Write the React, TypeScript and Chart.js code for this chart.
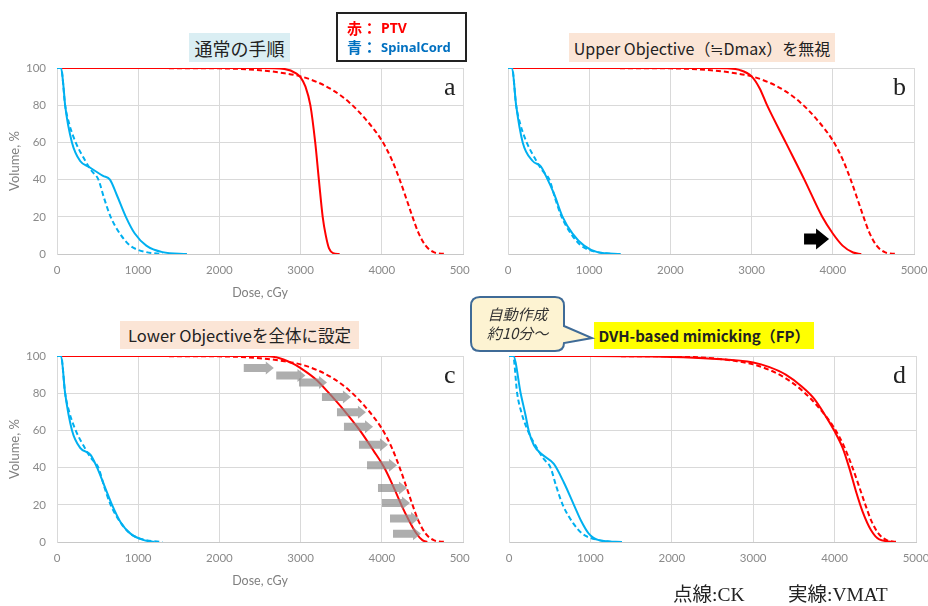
import React, { useEffect, useRef } from "react";
import { Chart, registerables } from "chart.js";
Chart.register(...registerables);

// ---------- DATA ----------
const xTicks = [0, 1000, 2000, 3000, 4000, 5000];
const yTicks = [0, 20, 40, 60, 80, 100];

// CK plan (dashed) – same reference plan in every panel
const cordCKDose = [0, 50, 100, 150, 230, 350, 420, 510, 580, 660, 790, 900, 1100, 1300];
const cordCKVol = [100, 100, 80, 70, 60, 50, 45, 40, 30, 20, 10, 4.5, 1, 0];
const ptvCKDose = [0, 2000, 2500, 2800, 3000, 3200, 3400, 3600, 3800, 4000, 4120, 4220, 4300, 4370, 4450, 4540, 4640, 4780];
const ptvCKVol = [100, 99.8, 98.8, 97.2, 95.5, 92.5, 88, 81.5, 72.5, 61, 51, 40, 30, 21, 11.5, 4.5, 1, 0];

// VMAT plans (solid)
const cordADose = [0, 50, 80, 100, 184, 285, 387, 567, 652, 734, 848, 958, 1100, 1300, 1600];
const cordAVol = [100, 100, 90, 80, 60, 50, 47, 42, 40, 32, 20, 11, 4.5, 1, 0];
const ptvADose = [0, 2500, 2800, 2950, 3000, 3060, 3120, 3180, 3225, 3272, 3310, 3350, 3400, 3480];
const ptvAVol = [100, 100, 99.5, 97, 95, 90, 80, 60, 40, 20, 10, 3, 0.5, 0];

const cordBDose = [0, 50, 100, 181, 304, 406, 467, 570, 672, 795, 937, 1102, 1388];
const cordBVol = [100, 100, 80, 60, 50, 47, 42, 32, 20, 11, 4.5, 1, 0];
const ptvBDose = [0, 2500, 2700, 2850, 3000, 3100, 3190, 3420, 3650, 3870, 4000, 4120, 4250, 4350];
const ptvBVol = [100, 100, 99.8, 99, 95.5, 89, 80, 60, 40, 20, 11, 4.5, 0.8, 0];

const cordCDose = [0, 50, 100, 185, 288, 411, 494, 596, 679, 781, 905, 1070, 1200];
const cordCVol = [100, 100, 80, 60, 50.5, 47, 40, 28.8, 19.8, 10.8, 4.5, 1, 0];
const ptvCDose = [0, 2500, 2700, 2900, 3000, 3200, 3350, 3550, 3730, 3900, 4030, 4140, 4240, 4330, 4420, 4500, 4560];
const ptvCVol = [100, 100, 99.3, 96, 93.5, 87, 80, 70, 60, 49, 40, 30, 20, 12, 5, 1, 0];

const cordDDose = [0, 53, 143, 204, 241, 306, 408, 551, 674, 797, 890, 980, 1103, 1388];
const cordDVol = [100, 100, 80, 68, 60, 52, 47, 42, 32, 20, 11, 4.5, 1, 0];
const ptvDDose = [0, 1000, 2000, 2500, 3000, 3200, 3400, 3600, 3750, 3900, 4000, 4100, 4182, 4264, 4345, 4448, 4549, 4753];
const ptvDVol = [100, 100, 99.5, 98.5, 96.5, 94, 90, 83.5, 77, 67, 59.5, 50.5, 39.6, 27, 16.2, 6.3, 1.4, 0];

// annotation arrows (dose from, dose to, volume)
const cArrowFrom = [2300, 2700, 2980, 3263, 3448, 3534, 3719, 3818, 3953, 4002, 4101, 4138];
const cArrowTo = [2670, 3060, 3325, 3620, 3805, 3892, 4076, 4187, 4310, 4347, 4458, 4483];
const cArrowVol = [93.5, 89.5, 85.8, 78, 69.8, 62, 52.3, 41.2, 29, 21, 12.7, 4.4];
const bArrowFrom = [3646];
const bArrowTo = [3954];
const bArrowVol = [8.1];

// ---------- helpers ----------
const pts = (d: number[], v: number[]) => d.map((x, i) => ({ x, y: v[i] }));
const BLUE = "#00b0f0";
const RED = "#ff0000";

const arrowPlugin = {
  id: "blockArrows",
  afterDatasetsDraw(chart: any, _a: any, opts: any) {
    if (!opts || !opts.from) return;
    const { ctx, scales } = chart;
    ctx.save();
    ctx.fillStyle = opts.color;
    for (let i = 0; i < opts.from.length; i++) {
      const x1 = scales.x.getPixelForValue(opts.from[i]);
      const x2 = scales.x.getPixelForValue(opts.to[i]);
      const y = scales.y.getPixelForValue(opts.vol[i]);
      const { sh, hh, hl } = opts;
      ctx.beginPath();
      ctx.moveTo(x1, y - sh);
      ctx.lineTo(x2 - hl, y - sh);
      ctx.lineTo(x2 - hl, y - hh);
      ctx.lineTo(x2, y);
      ctx.lineTo(x2 - hl, y + hh);
      ctx.lineTo(x2 - hl, y + sh);
      ctx.lineTo(x1, y + sh);
      ctx.closePath();
      ctx.fill();
    }
    ctx.restore();
  },
};

type PanelProps = {
  left: number; top: number; w: number; h: number;
  padL: number; padR: number; yW: number; showY: boolean; xTitle: boolean;
  cord: { x: number; y: number }[]; ptv: { x: number; y: number }[];
  arrows?: any;
};

const latin = "Lato, 'Noto Sans', sans-serif";
const tickFont = { family: latin, size: 11.5 };
const gridColor = "#d9d9d9";

function Panel(p: PanelProps) {
  const ref = useRef<HTMLCanvasElement>(null);
  useEffect(() => {
    const line = (data: any, color: string, dashed: boolean) => ({
      data,
      borderColor: color,
      borderWidth: 2,
      borderDash: dashed ? [5, 3] : [],
      pointRadius: 0,
      fill: false,
      cubicInterpolationMode: "monotone",
    });
    const chart = new Chart(ref.current!, {
      type: "line",
      data: {
        datasets: [
          line(p.cord, BLUE, false),
          line(pts(cordCKDose, cordCKVol), BLUE, true),
          line(p.ptv, RED, false),
          line(pts(ptvCKDose, ptvCKVol), RED, true),
        ] as any,
      },
      options: {
        responsive: false,
        animation: false,
        parsing: false,
        layout: { padding: { left: p.padL, right: p.padR, top: 8, bottom: 0 } },
        plugins: {
          legend: { display: false },
          tooltip: { enabled: false },
          blockArrows: p.arrows || {},
        } as any,
        scales: {
          x: {
            type: "linear",
            min: 0,
            max: 5000,
            afterBuildTicks: (s: any) => { s.ticks = xTicks.map((v) => ({ value: v })); },
            ticks: {
              color: "#8a8a8a",
              font: tickFont,
              padding: 9,
              maxRotation: 0,
              autoSkip: false,
              callback: (v: any) => String(v),
            },
            grid: { color: gridColor, lineWidth: 1, drawTicks: false, tickLength: 0 },
            border: { display: true, color: "#c8c8c8", width: 1 },
            title: {
              display: p.xTitle,
              text: "Dose, cGy",
              color: "#7f7f7f",
              font: { family: latin, size: 12.5 },
              padding: { top: 0, bottom: 0 },
            },
            afterFit: (s: any) => { s.height = 46; s.paddingLeft = 0; s.paddingRight = 0; },
          } as any,
          y: {
            type: "linear",
            min: 0,
            max: 100,
            afterBuildTicks: (s: any) => { s.ticks = yTicks.map((v) => ({ value: v })); },
            ticks: {
              display: p.showY,
              color: "#8a8a8a",
              font: tickFont,
              padding: 11,
              callback: (v: any) => String(v),
            },
            grid: { color: gridColor, lineWidth: 1, drawTicks: false, tickLength: 0 },
            border: { display: true, color: gridColor, width: 1 },
            title: {
              display: p.showY,
              text: "Volume, %",
              color: "#7f7f7f",
              font: { family: latin, size: 13 },
              padding: { top: 7, bottom: 0 },
            },
            afterFit: (s: any) => { s.width = p.yW; s.paddingTop = 0; s.paddingBottom = 0; },
          } as any,
        },
      },
      plugins: [arrowPlugin as any],
    });
    return () => chart.destroy();
  }, []);
  return (
    <canvas
      ref={ref}
      width={p.w}
      height={p.h}
      style={{ position: "absolute", left: p.left, top: p.top, width: p.w, height: p.h }}
    />
  );
}

const jp = "'Noto Sans CJK JP', 'Noto Sans', sans-serif";

function Title(props: { left: number; top: number; w: number; h: number; bg: string; text: string; bold?: boolean; size: number }) {
  return (
    <div
      style={{
        position: "absolute",
        left: props.left,
        top: props.top,
        width: props.w,
        height: props.h,
        background: props.bg,
        display: "flex",
        alignItems: "center",
        justifyContent: "center",
        fontFamily: jp,
        fontSize: props.size,
        fontWeight: props.bold ? 700 : 400,
        color: "#222",
        whiteSpace: "nowrap",
        lineHeight: 1,
      }}
    >
      {props.text}
    </div>
  );
}

function Letter(props: { left: number; top: number; t: string }) {
  return (
    <div
      style={{
        position: "absolute",
        left: props.left,
        top: props.top,
        fontFamily: "'Liberation Serif', serif",
        fontSize: 26,
        lineHeight: "26px",
        color: "#222",
      }}
    >
      {props.t}
    </div>
  );
}

export default function App() {
  return (
    <div style={{ position: "absolute", left: 0, top: 0, width: 928, height: 606, background: "#fff", overflow: "hidden" }}>
      <Panel left={0} top={60} w={470} h={240} padL={0} padR={7} yW={57} showY={true} xTitle={true}
        cord={pts(cordADose, cordAVol)} ptv={pts(ptvADose, ptvAVol)} />
      <Panel left={470} top={60} w={458} h={240} padL={38} padR={14} yW={0} showY={false} xTitle={false}
        cord={pts(cordBDose, cordBVol)} ptv={pts(ptvBDose, ptvBVol)}
        arrows={{ from: bArrowFrom, to: bArrowTo, vol: bArrowVol, color: "#000", sh: 5.5, hh: 10.5, hl: 13 }} />
      <Panel left={0} top={348} w={470} h={240} padL={0} padR={7} yW={57} showY={true} xTitle={true}
        cord={pts(cordCDose, cordCVol)} ptv={pts(ptvCDose, ptvCVol)}
        arrows={{ from: cArrowFrom, to: cArrowTo, vol: cArrowVol, color: "rgba(140,140,140,0.7)", sh: 4, hh: 6.5, hl: 8 }} />
      <Panel left={470} top={348} w={458} h={240} padL={39} padR={12} yW={0} showY={false} xTitle={false}
        cord={pts(cordDDose, cordDVol)} ptv={pts(ptvDDose, ptvDVol)} />

      <Title left={189} top={33} w={101} h={29} bg="#daeef3" text="通常の手順" size={18} />
      <Title left={569} top={33} w={266} h={29} bg="#fbe5d6" text="Upper Objective（≒Dmax）を無視" size={16} />
      <Title left={120} top={321} w={239} h={28} bg="#fbe5d6" text="Lower Objectiveを全体に設定" size={16.5} />
      <Title left={594} top={322} w={220} h={27} bg="#ffff00" text="DVH-based mimicking（FP）" size={15} bold />

      {/* legend box */}
      <div style={{ position: "absolute", left: 336, top: 12, width: 127, height: 46, border: "2px solid #222", background: "#fff" }} />
      <div style={{ position: "absolute", left: 347, top: 18, fontFamily: jp, fontWeight: 700, fontSize: 15, color: RED, lineHeight: "20px" }}>赤：</div>
      <div style={{ position: "absolute", left: 381, top: 18, fontFamily: "'Noto Sans', sans-serif", fontWeight: 700, fontSize: 14, color: RED, lineHeight: "20px" }}>PTV</div>
      <div style={{ position: "absolute", left: 347, top: 37, fontFamily: jp, fontWeight: 700, fontSize: 15, color: "#0070c0", lineHeight: "20px" }}>青：</div>
      <div style={{ position: "absolute", left: 381, top: 37, fontFamily: "'Noto Sans', sans-serif", fontWeight: 700, fontSize: 13, color: "#0070c0", lineHeight: "20px" }}>SpinalCord</div>

      <Letter left={444} top={74} t="a" />
      <Letter left={893} top={74} t="b" />
      <Letter left={444} top={362} t="c" />
      <Letter left={893} top={362} t="d" />

      {/* callout */}
      <svg style={{ position: "absolute", left: 465, top: 292 }} width={135} height={65}>
        <path
          d="M 15 5 H 90 Q 99 5 99 14 V 34 L 127 46 L 99 51 Q 99 59 90 59 H 15 Q 6 59 6 50 V 14 Q 6 5 15 5 Z"
          fill="#fdf3d2"
          stroke="#3f6b97"
          strokeWidth={2}
        />
      </svg>
      <div style={{ position: "absolute", left: 471, top: 304, width: 93, textAlign: "center", fontFamily: jp, fontStyle: "italic", fontSize: 15, lineHeight: "19px", color: "#333" }}>
        自動作成<br />約10分～
      </div>

      <div style={{ position: "absolute", left: 673, top: 584, fontFamily: "'Liberation Serif', 'Noto Sans CJK JP', serif", fontSize: 19.5, lineHeight: "22px", color: "#222", whiteSpace: "nowrap" }}>
        点線:CK
      </div>
      <div style={{ position: "absolute", left: 788, top: 584, fontFamily: "'Liberation Serif', 'Noto Sans CJK JP', serif", fontSize: 19.5, lineHeight: "22px", color: "#222", whiteSpace: "nowrap" }}>
        実線:VMAT
      </div>
    </div>
  );
}
